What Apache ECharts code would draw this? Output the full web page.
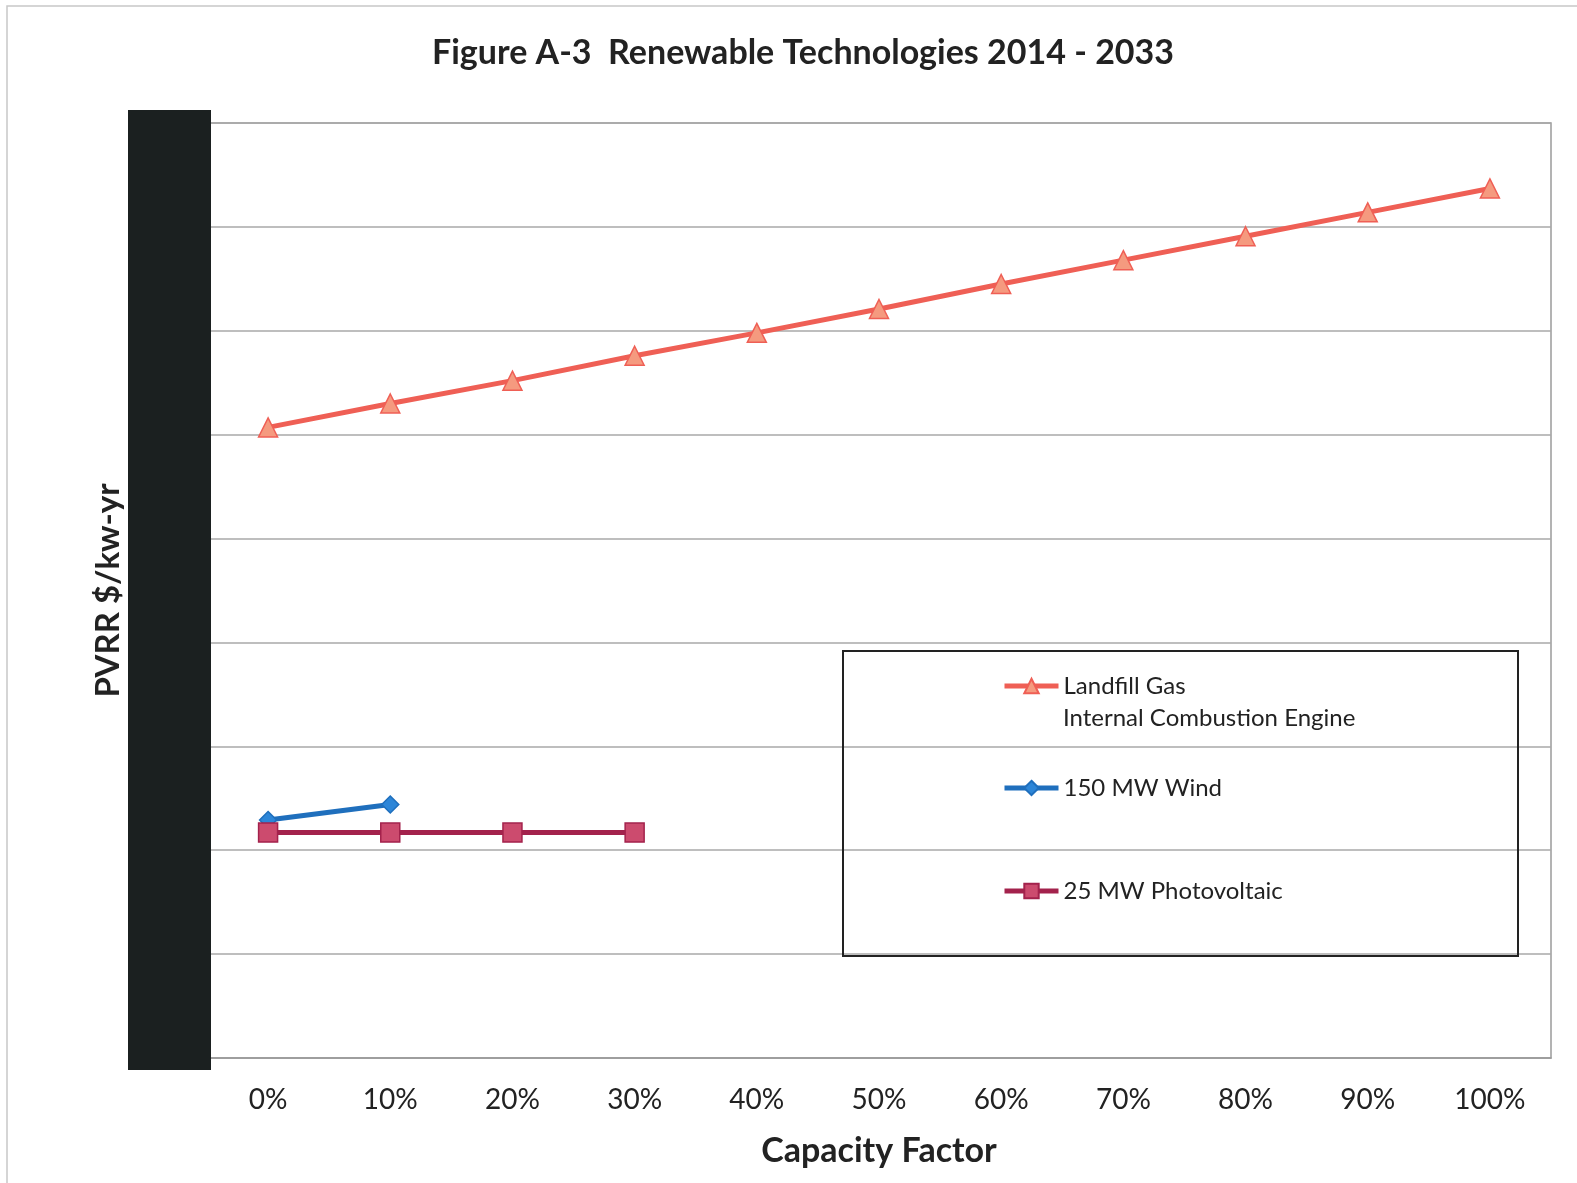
<!DOCTYPE html>
<html>
<head>
<meta charset="utf-8">
<script src="https://cdn.jsdelivr.net/npm/echarts@6/dist/echarts.min.js"></script>
<style>
  html, body { margin: 0; padding: 0; background: #fff; }
  #chart { width: 1577px; height: 1183px; }
</style>
</head>
<body>
<div id="chart"></div>
<script>
// Capacity factor categories
const capacityFactors = ['0%', '10%', '20%', '30%', '40%', '50%', '60%', '70%', '80%', '90%', '100%'];

// PVRR ($/kw-yr) by capacity factor
const landfillGas = [607, 630, 652, 676, 698, 721, 745, 768, 791, 814, 837];
const wind150 = [229, 244];
const pv25 = [217, 217, 217, 217];

const seriesNames = ['Landfill Gas', '150 MW Wind', '25 MW Photovoltaic'];
const landfillSubtitle = 'Internal Combustion Engine';

const font = 'Lato, "Open Sans", sans-serif';
const legendText = { fontFamily: font, fontSize: 24, color: '#222', lineHeight: 32 };

// one legend block per series, stacked inside the framed box
function legendBlock(name, top) {
  return {
    orient: 'vertical',
    left: 997,
    top: top,
    z: 20,
    itemWidth: 54,
    itemHeight: 18,
    itemGap: 0,
    lineStyle: { width: 5 },
    textStyle: legendText,
    data: [name]
  };
}

const chart = echarts.init(document.getElementById('chart'), null, { renderer: 'canvas' });

chart.setOption({
  animation: false,
  backgroundColor: '#ffffff',
  title: {
    text: 'Figure A-3  Renewable Technologies 2014 - 2033',
    left: 798,
    top: 31,
    textAlign: 'center',
    textStyle: { fontFamily: font, fontSize: 34, fontWeight: 'bold', color: '#222' }
  },
  grid: {
    left: 207, right: 26, top: 123, bottom: 125,
    show: true, borderColor: '#9a9a9a', borderWidth: 1.5, backgroundColor: 'transparent'
  },
  legend: [
    legendBlock(seriesNames[0], 665),
    legendBlock(seriesNames[1], 767),
    legendBlock(seriesNames[2], 870)
  ],
  xAxis: {
    type: 'category',
    data: capacityFactors,
    boundaryGap: true,
    name: 'Capacity Factor',
    nameLocation: 'middle',
    nameGap: 76,
    nameTextStyle: { fontFamily: font, fontSize: 34, fontWeight: 'bold', color: '#222' },
    axisLine: { show: true, lineStyle: { color: '#9a9a9a', width: 1.5 } },
    axisTick: { show: false },
    axisLabel: { fontFamily: font, fontSize: 28, color: '#222', margin: 28 }
  },
  yAxis: {
    type: 'value',
    min: 0,
    max: 900,
    interval: 100,
    name: 'PVRR $/kw-yr',
    nameLocation: 'middle',
    nameRotate: 90,
    nameGap: 82,
    nameTextStyle: { fontFamily: font, fontSize: 33, fontWeight: 'bold', color: '#222' },
    axisLine: { show: false },
    axisTick: { show: false },
    axisLabel: { show: false },
    splitLine: { show: true, lineStyle: { color: '#a8a8a8', width: 1.5 } }
  },
  graphic: [
    {
      type: 'rect',
      shape: { x: 7, y: 6, width: 1600, height: 1200 },
      style: { fill: 'none', stroke: '#c8c8c8', lineWidth: 1.5 },
      z: 0
    },
    {
      type: 'rect',
      shape: { x: 128, y: 110, width: 83, height: 960 },
      style: { fill: '#1b2020' },
      z: 10
    },
    {
      type: 'rect',
      shape: { x: 843, y: 651, width: 675, height: 305 },
      style: { fill: 'none', stroke: '#222', lineWidth: 2 },
      z: 5
    },
    {
      type: 'text',
      left: 1063,
      top: 706,
      z: 20,
      style: { text: landfillSubtitle, font: '24px ' + font, fill: '#222' }
    }
  ],
  series: [
    {
      name: seriesNames[0],
      type: 'line',
      data: landfillGas,
      symbol: 'triangle',
      symbolSize: 19,
      lineStyle: { color: '#ef5f55', width: 5 },
      itemStyle: { color: '#f59a7f', borderColor: '#ef5f55', borderWidth: 1.5 },
      z: 3
    },
    {
      name: seriesNames[1],
      type: 'line',
      data: wind150,
      symbol: 'diamond',
      symbolSize: 17,
      lineStyle: { color: '#1f6fbd', width: 5 },
      itemStyle: { color: '#2d86d8', borderColor: '#1f6fbd', borderWidth: 1.5 },
      z: 3
    },
    {
      name: seriesNames[2],
      type: 'line',
      data: pv25,
      symbol: 'rect',
      symbolSize: 19,
      lineStyle: { color: '#a3224c', width: 5 },
      itemStyle: { color: '#cc4b6e', borderColor: '#a3224c', borderWidth: 1.5 },
      z: 4
    }
  ]
});
</script>
</body>
</html>
